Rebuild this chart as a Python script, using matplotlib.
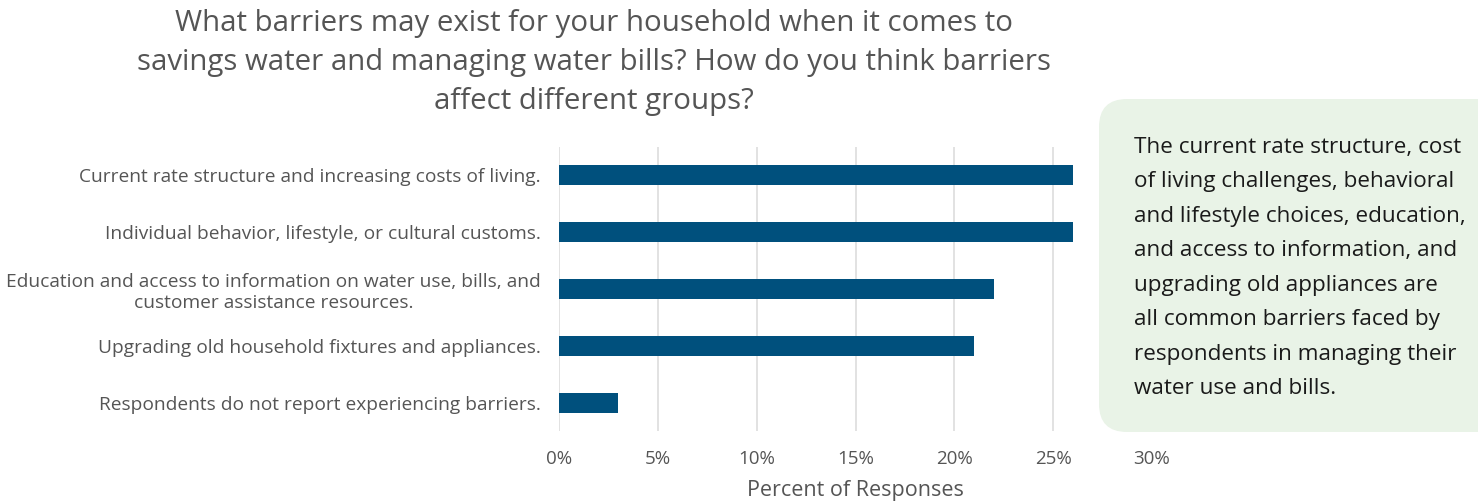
import matplotlib
matplotlib.use("Agg")
import matplotlib.pyplot as plt
from matplotlib.patches import FancyBboxPatch
from matplotlib.ticker import FuncFormatter

plt.rcParams["font.family"] = ["Open Sans", "DejaVu Sans"]

# Data
categories = [
    "Current rate structure and increasing costs of living.",
    "Individual behavior, lifestyle, or cultural customs.",
    "Education and access to information on water use, bills, and\ncustomer assistance resources.",
    "Upgrading old household fixtures and appliances.",
    "Respondents do not report experiencing barriers.",
]
percents = [26, 26, 22, 21, 3]
xticks = [0, 5, 10, 15, 20, 25, 30]

title = ("What barriers may exist for your household when it comes to\n"
         "savings water and managing water bills? How do you think barriers\n"
         "affect different groups?")
note = ("The current rate structure, cost\n"
        "of living challenges, behavioral\n"
        "and lifestyle choices, education,\n"
        "and access to information, and\n"
        "upgrading old appliances are\n"
        "all common barriers faced by\n"
        "respondents in managing their\n"
        "water use and bills.")

W, H = 1478, 501
fig = plt.figure(figsize=(W / 100, H / 100), dpi=100)

# background axes in pixel units for the note box
bg = fig.add_axes([0, 0, 1, 1])
bg.set_xlim(0, W)
bg.set_ylim(H, 0)
bg.axis("off")
bg.set_zorder(2)
bg.patch.set_visible(False)
box = FancyBboxPatch((1099, 99), 420, 333,
                     boxstyle="round,pad=0,rounding_size=28",
                     facecolor="#e9f3e7", edgecolor="none")
bg.add_patch(box)
bg.text(1134, 137, note, ha="left", va="top", fontsize=16.2,
        color="#1a1a1a", linespacing=1.84)

ax = fig.add_axes([559 / W, (H - 431) / H, (1152 - 559) / W, (431 - 147) / H])
ax.set_zorder(1)

y = list(range(len(categories)))
ax.barh(y, percents, height=0.35, color="#00507d", zorder=3)
ax.set_yticks(y)
ax.set_yticklabels(categories, fontsize=13.8, color="#555555", ha="right")
for lbl in ax.get_yticklabels():
    lbl.set_multialignment("center")
    lbl.set_linespacing(1.25)
ax.set_ylim(4.5, -0.5)
ax.set_xlim(0, 30)
ax.set_xticks(xticks)
ax.xaxis.set_major_formatter(FuncFormatter(lambda v, p: f"{v:.0f}%"))
ax.tick_params(axis="x", labelsize=13.5, labelcolor="#555555", length=0, pad=14)
ax.tick_params(axis="y", length=0, pad=13)
ax.grid(axis="x", color="#dddddd", linewidth=1.2, zorder=0)
for s in ax.spines.values():
    s.set_visible(False)
ax.set_xlabel("Percent of Responses", fontsize=15.5, color="#555555", labelpad=8)

fig.text(594 / W, 0.982, title, ha="center", va="top", fontsize=21.2,
         color="#555555", linespacing=1.45)

fig.savefig("out.png", dpi=100)
